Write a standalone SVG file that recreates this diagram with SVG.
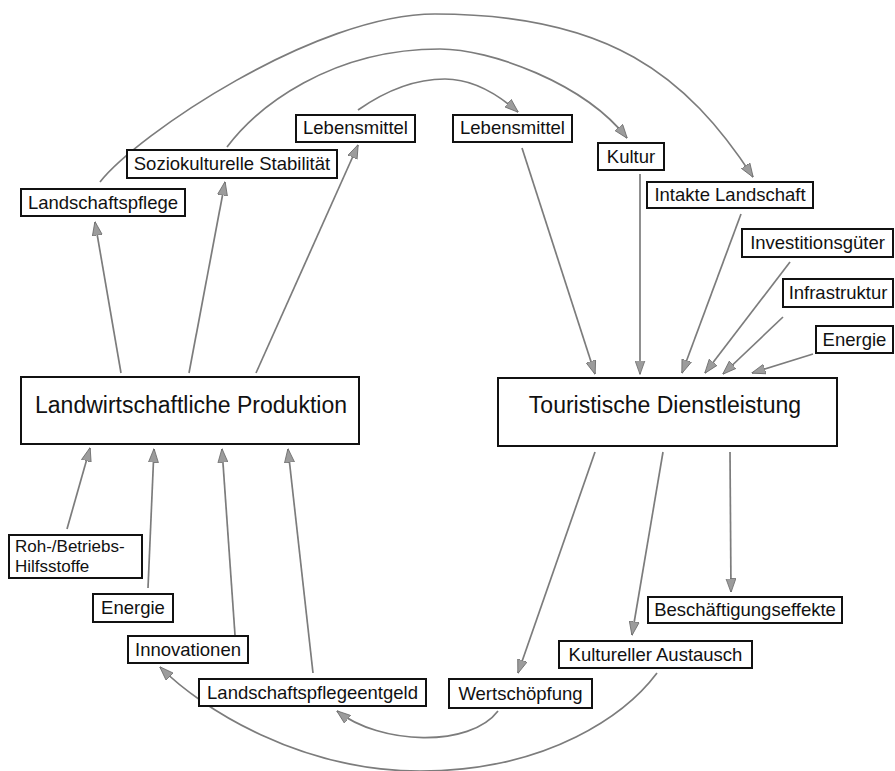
<svg xmlns="http://www.w3.org/2000/svg" width="895" height="771" viewBox="0 0 895 771">
  <style>
    .box { fill: #ffffff; stroke: #111111; stroke-width: 2; }
    .lbl { font-family: "Liberation Sans", Arial, sans-serif; font-size: 18.5px; fill: #111111; text-anchor: middle; }
    .big { font-family: "Liberation Sans", Arial, sans-serif; font-size: 23px; fill: #111111; text-anchor: middle; }
    .two { font-family: "Liberation Sans", Arial, sans-serif; font-size: 17px; fill: #111111; text-anchor: start; }
    .link { fill: none; stroke: #7c7c7c; stroke-width: 1.7; marker-end: url(#arr); }
  </style>
  <defs>
    <marker id="arr" viewBox="0 0 14 11" markerWidth="14" markerHeight="11" refX="13.5" refY="5.5" markerUnits="userSpaceOnUse" orient="auto">
      <path d="M0,0.5 L14,5.5 L0,10.5 z" fill="#9c9c9c" stroke="#6a6a6a" stroke-width="0.8"/>
    </marker>
  </defs>

  <g id="connectors">
    <!-- upper arcs: agriculture outputs towards tourism -->
    <path class="link" d="M100,182 C137,135 315,14 435,14 C608,14 686.5,75 753,177"/>
    <path class="link" d="M227,147 C257,107 330,49 440,49 C490,49 584,83 627,138"/>
    <path class="link" d="M358,110 C378,96 410,79 445,79 C470,79 493,90 518,112"/>
    <!-- agriculture up to its outputs -->
    <path class="link" d="M121,373 L95,222"/>
    <path class="link" d="M189,373 L225,182"/>
    <path class="link" d="M256,373 L358,145"/>
    <!-- inputs into tourism -->
    <path class="link" d="M522,148 L595,374"/>
    <path class="link" d="M640,174 L640,374"/>
    <path class="link" d="M741,214 L682,373"/>
    <path class="link" d="M790,262 L705,373"/>
    <path class="link" d="M783,317 L723,374"/>
    <path class="link" d="M813,354 L752,373"/>
    <!-- tourism outputs -->
    <path class="link" d="M595,452 L518,673"/>
    <path class="link" d="M663,452 L632,635"/>
    <path class="link" d="M730,452 L731,592"/>
    <!-- inputs into agriculture -->
    <path class="link" d="M67,529 L90,448"/>
    <path class="link" d="M148,588 L154,449"/>
    <path class="link" d="M235,635 L222,449"/>
    <path class="link" d="M313,673 L288,449"/>
    <!-- lower arcs: tourism back to agriculture -->
    <path class="link" d="M498,711 C470,748 380,745 337,711"/>
    <path class="link" d="M657,673 C627,713 550,771 420,771 C300,771 202,709 160,667"/>
  </g>

  <g id="landschaftspflege"><rect class="box" x="21" y="189" width="164" height="27"/><text class="lbl" x="103" y="209">Landschaftspflege</text></g>
  <g id="soziokulturelle-stabilitaet"><rect class="box" x="127" y="150" width="210" height="28"/><text class="lbl" x="232" y="170">Soziokulturelle Stabilität</text></g>
  <g id="lebensmittel-links"><rect class="box" x="296" y="115" width="119" height="27"/><text class="lbl" x="355.5" y="134">Lebensmittel</text></g>
  <g id="lebensmittel-rechts"><rect class="box" x="453" y="115" width="119" height="27"/><text class="lbl" x="512.5" y="134">Lebensmittel</text></g>
  <g id="kultur"><rect class="box" x="598" y="143" width="66" height="27"/><text class="lbl" x="631" y="163">Kultur</text></g>
  <g id="intakte-landschaft"><rect class="box" x="647" y="182" width="166" height="26"/><text class="lbl" x="730" y="201">Intakte Landschaft</text></g>
  <g id="investitionsgueter"><rect class="box" x="742" y="229" width="151" height="28"/><text class="lbl" x="817.5" y="249">Investitionsgüter</text></g>
  <g id="infrastruktur"><rect class="box" x="783" y="279" width="110" height="28"/><text class="lbl" x="838" y="299">Infrastruktur</text></g>
  <g id="energie-tourismus"><rect class="box" x="816" y="326" width="77" height="27"/><text class="lbl" x="854.5" y="346">Energie</text></g>

  <g id="landwirtschaftliche-produktion"><rect class="box" x="21" y="377" width="338" height="67"/><text class="big" x="191" y="413">Landwirtschaftliche Produktion</text></g>
  <g id="touristische-dienstleistung"><rect class="box" x="498" y="378" width="339" height="68"/><text class="big" x="665" y="413">Touristische Dienstleistung</text></g>

  <g id="roh-betriebs-hilfsstoffe"><rect class="box" x="9" y="535" width="133" height="43"/><text class="two" x="15" y="552">Roh-/Betriebs-</text><text class="two" x="15" y="572">Hilfsstoffe</text></g>
  <g id="energie-landwirtschaft"><rect class="box" x="93" y="594" width="80" height="28"/><text class="lbl" x="133" y="614">Energie</text></g>
  <g id="innovationen"><rect class="box" x="128" y="636" width="120" height="27"/><text class="lbl" x="188" y="656">Innovationen</text></g>
  <g id="landschaftspflegeentgeld"><rect class="box" x="199" y="679" width="227" height="27"/><text class="lbl" x="312.5" y="699">Landschaftspflegeentgeld</text></g>
  <g id="wertschoepfung"><rect class="box" x="449" y="679" width="143" height="29"/><text class="lbl" x="520.5" y="700">Wertschöpfung</text></g>
  <g id="kultureller-austausch"><rect class="box" x="559" y="641" width="193" height="27"/><text class="lbl" x="655.5" y="661">Kultureller Austausch</text></g>
  <g id="beschaeftigungseffekte"><rect class="box" x="648" y="597" width="194" height="26"/><text class="lbl" x="745" y="616">Beschäftigungseffekte</text></g>
</svg>
